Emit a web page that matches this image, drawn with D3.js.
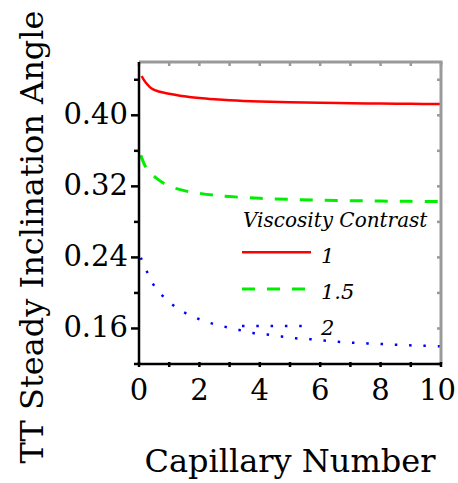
<!DOCTYPE html>
<html>
<head>
<meta charset="utf-8">
<script src="https://cdn.jsdelivr.net/npm/d3@7"></script>
<style>
  html, body { margin: 0; padding: 0; background: #fff; }
  svg { display: block; }
</style>
</head>
<body>
<svg id="chart" width="458" height="483"></svg>
<script>
// ---- data ----
const seriesNames = ["1", "1.5", "2"];
const legendTitle = "Viscosity Contrast";
const xLabel = "Capillary Number";
const yLabel = "TT Steady Inclination Angle";

const xTickValues = [0, 2, 4, 6, 8, 10];
const xMinorTicks = [0, 1, 2, 3, 4, 5, 6, 7, 8, 9, 10];
const yTickValues = [0.16, 0.24, 0.32, 0.40];
const yMinorTicks = [0.12, 0.20, 0.28, 0.36, 0.44];
const yTickLabels = ["0.16", "0.24", "0.32", "0.40"];

const redX = [0.09, 0.15, 0.25, 0.35, 0.47, 0.6, 0.8, 1, 1.5, 2, 2.5, 3, 4, 5, 6, 7, 8, 9, 10];
const redY = [0.4443, 0.4405, 0.4357, 0.4320, 0.4292, 0.4274, 0.4256, 0.4243, 0.4214, 0.4194, 0.4180, 0.4169, 0.4155, 0.4147, 0.4141, 0.4136, 0.4132, 0.4129, 0.4126];

const greenX = [0.06, 0.22, 0.45, 0.66, 1, 1.5, 2, 2.5, 3, 4, 5, 6, 7, 8, 9, 10];
const greenY = [0.355, 0.342, 0.3330, 0.327, 0.3203, 0.3152, 0.3122, 0.3100, 0.3085, 0.3065, 0.3053, 0.3045, 0.3039, 0.3034, 0.3031, 0.3028];

const blueX = [0.06, 0.26, 0.51, 0.92, 1.38, 1.86, 2.33, 2.8, 3.29, 3.77, 4.24, 4.72, 5.19, 5.66, 6.13, 6.6, 7.07, 7.55, 8.02, 8.5, 8.97, 9.44, 9.91, 10];
const blueY = [0.2397, 0.2242, 0.2077, 0.1923, 0.1803, 0.1724, 0.1664, 0.1623, 0.1585, 0.155, 0.1533, 0.151, 0.149, 0.148, 0.1465, 0.145, 0.144, 0.1432, 0.1425, 0.1417, 0.141, 0.1406, 0.140, 0.1399];

// ---- layout ----
const svg = d3.select("#chart");
const L = 139, R = 441, T = 62, B = 364;
const x = d3.scaleLinear().domain([0, 10]).range([L, R]);
const y = d3.scaleLinear().domain([0.12, 0.46]).range([B, T]);
const FONT = "'DejaVu Serif', serif";

const series = [
  { name: seriesNames[0], xs: redX, ys: redY, color: "#ff0000", width: 2.5, dash: null },
  { name: seriesNames[1], xs: greenX, ys: greenY, color: "#00ee00", width: 3, dash: "13 12" },
  { name: seriesNames[2], xs: blueX, ys: blueY, color: "#0000ff", width: 2.5, dash: "2.5 11.8" }
];

const line = d3.line().x(d => x(d[0])).y(d => y(d[1])).curve(d3.curveCatmullRom.alpha(0.5));

const plot = svg.append("g");
series.forEach(s => {
  const pts = s.xs.map((v, i) => [v, s.ys[i]]);
  plot.append("path")
    .datum(pts)
    .attr("d", line)
    .attr("fill", "none")
    .attr("stroke", s.color)
    .attr("stroke-width", s.width)
    .attr("stroke-dasharray", s.dash);
});

// ---- frame: top & right gray ----
const gray = "#9a9a9a";
svg.append("line").attr("x1", L).attr("x2", R + 1.5).attr("y1", T).attr("y2", T)
  .attr("stroke", gray).attr("stroke-width", 3);
svg.append("line").attr("x1", R).attr("x2", R).attr("y1", T).attr("y2", B)
  .attr("stroke", gray).attr("stroke-width", 3);
svg.append("g").selectAll("line").data(xMinorTicks).join("line")
  .attr("x1", d => x(d)).attr("x2", d => x(d)).attr("y1", T).attr("y2", T + 4)
  .attr("stroke", gray).attr("stroke-width", 2.5);
svg.append("g").selectAll("line").data(yTickValues.concat(yMinorTicks)).join("line")
  .attr("x1", R).attr("x2", R - 4).attr("y1", d => y(d)).attr("y2", d => y(d))
  .attr("stroke", gray).attr("stroke-width", 2.5);

// ---- left axis ----
svg.append("line").attr("x1", L).attr("x2", L).attr("y1", T).attr("y2", B + 1)
  .attr("stroke", "#000").attr("stroke-width", 2.5);
svg.append("g").selectAll("line").data(yTickValues).join("line")
  .attr("x1", L).attr("x2", L - 8).attr("y1", d => y(d)).attr("y2", d => y(d))
  .attr("stroke", "#000").attr("stroke-width", 2.5);
svg.append("g").selectAll("line").data(yMinorTicks).join("line")
  .attr("x1", L).attr("x2", L - 5).attr("y1", d => y(d)).attr("y2", d => y(d))
  .attr("stroke", "#000").attr("stroke-width", 2.5);
svg.append("g").selectAll("text").data(yTickValues).join("text")
  .attr("x", 128).attr("y", d => y(d) + 9)
  .attr("text-anchor", "end")
  .attr("font-family", FONT).attr("font-size", 29)
  .attr("fill", "#000")
  .text((d, i) => yTickLabels[i]);

// ---- bottom axis ----
svg.append("line").attr("x1", L - 1).attr("x2", R).attr("y1", B).attr("y2", B)
  .attr("stroke", "#000").attr("stroke-width", 2.5);
svg.append("g").selectAll("line").data(xMinorTicks).join("line")
  .attr("x1", d => x(d)).attr("x2", d => x(d)).attr("y1", B - 2).attr("y2", B + 3)
  .attr("stroke", "#000").attr("stroke-width", 2.5);
const xt = svg.append("g").selectAll("text").data(xTickValues).join("text")
  .attr("x", d => x(d)).attr("y", 400)
  .attr("text-anchor", "middle")
  .attr("font-family", FONT).attr("font-size", 29)
  .attr("fill", "#000")
  .text(d => d);
// keep labels inside the page
xt.each(function() {
  const bb = this.getBBox();
  const over = bb.x + bb.width - 456;
  if (over > 0) d3.select(this).attr("x", +d3.select(this).attr("x") - over);
});

// ---- axis titles ----
svg.append("text")
  .attr("x", 290).attr("y", 472)
  .attr("text-anchor", "middle")
  .attr("font-family", FONT).attr("font-size", 32)
  .attr("fill", "#000")
  .text(xLabel);
svg.append("text")
  .attr("transform", "translate(43,237) rotate(-90)")
  .attr("text-anchor", "middle")
  .attr("font-family", FONT).attr("font-size", 32)
  .attr("fill", "#000")
  .text(yLabel);

// ---- legend ----
const lg = svg.append("g");
lg.append("text")
  .attr("x", 243).attr("y", 226.5)
  .attr("font-family", FONT).attr("font-style", "italic").attr("font-size", 20)
  .attr("fill", "#000")
  .text(legendTitle);
const legendY = [252.3, 289, 326];
const legendTextY = [262.5, 299, 335];
series.forEach((s, i) => {
  lg.append("line")
    .attr("x1", 242).attr("x2", 311)
    .attr("y1", legendY[i]).attr("y2", legendY[i])
    .attr("stroke", s.color).attr("stroke-width", s.width)
    .attr("stroke-dasharray", s.dash);
  lg.append("text")
    .attr("x", 321).attr("y", legendTextY[i])
    .attr("font-family", FONT).attr("font-style", "italic").attr("font-size", 21)
    .attr("fill", "#000")
    .text(s.name);
});
</script>
</body>
</html>
